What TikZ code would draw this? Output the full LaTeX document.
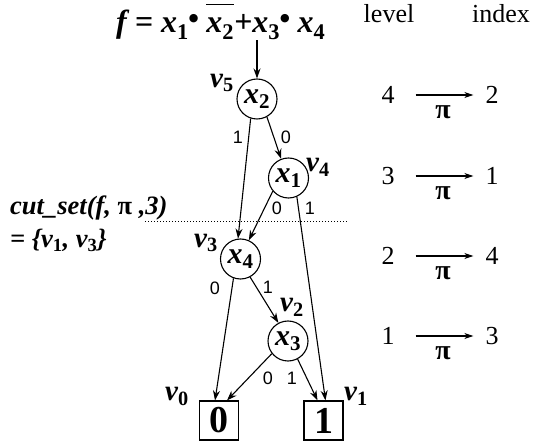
\documentclass[tikz,border=0pt]{standalone}
\usepackage{fontspec}
\setmainfont{Liberation Serif}
\newfontfamily\arialf{Liberation Sans}
\newfontfamily\djv{DejaVu Sans}
\usetikzlibrary{arrows.meta}
\newcommand{\sbb}[1]{\textsubscript{\bfseries\upshape #1}}
\newcommand{\xv}[1]{\textbf{\textit{x}}\sbb{#1}}
\newcommand{\vv}[1]{\textbf{\textit{v}}\sbb{#1}}
\newcommand{\bul}{\raisebox{11pt}{\djv\fontsize{11}{11}\selectfont ●}}
\newcommand{\ovl}[1]{\setbox0\hbox{#1}\rlap{\rule[0.86em]{\wd0}{1.5pt}}\box0}
\begin{document}
\begin{tikzpicture}[x=1pt,y=-1pt,
  vnode/.style={circle,draw,line width=1.1pt,minimum size=40pt,inner sep=0pt,font=\fontsize{30}{32}\selectfont\bfseries\itshape},
  tnode/.style={draw,line width=1.1pt,minimum size=39pt,inner sep=0pt,font=\fontsize{38}{40}\selectfont\bfseries},
  conn/.style={line width=1.1pt,-{Stealth[length=10pt,width=7pt]}},
  rarr/.style={line width=1.1pt,-{Stealth[length=9pt,width=6pt]}},
  elab/.style={font=\arialf\fontsize{18}{20}\selectfont,inner sep=0pt},
  vlab/.style={font=\fontsize{29}{31}\selectfont,inner sep=0pt},
  rtxt/.style={font=\fontsize{26}{28}\selectfont,inner sep=0pt},
  pil/.style={font=\fontsize{28}{30}\selectfont\bfseries,inner sep=0pt},
]
\useasboundingbox (0,0) rectangle (533,446);

% formula
\node[anchor=base west,inner sep=0pt,font=\fontsize{32}{34}\selectfont\bfseries\itshape] (fml) at (116,33)
  {f = \xv{1}\bul\ \ovl{\xv{2}}+\xv{3}\bul\ \xv{4}};

% BDD nodes
\node[vnode] (v5) at (257,99) {\xv{2}};
\node[vnode] (v4) at (288.5,178) {\xv{1}};
\node[vnode] (v3) at (240.5,259) {\xv{4}};
\node[vnode] (v2) at (288,341) {\xv{3}};
\node[tnode] (b0) at (219,420.5) {0};
\node[tnode] (b1) at (323.5,420.5) {1};

% node labels
\node[vlab] (l5) at (222,83) {\vv{5}};
\node[vlab] (l4) at (318,167) {\vv{4}};
\node[vlab] (l3) at (206,243) {\vv{3}};
\node[vlab] (l2) at (292,307) {\vv{2}};
\node[vlab] (l0) at (177,396) {\vv{0}};
\node[vlab] (l1) at (356,396) {\vv{1}};

% connectors
\draw[conn] (v5 |- fml.south) -- (v5.north);
\draw[conn] (v5.252) -- (v3.97);
\draw[conn] (v5.299) -- (v4.111);
\draw[conn] (v4.220) -- (v3.66);
\draw[conn] (v4.294) -- ([xshift=2pt]b1.north);
\draw[conn] (v3.250) -- ([xshift=-4pt]b0.north);
\draw[conn] (v3.298) -- (v2.118);
\draw[conn] (v2.218) -- ([xshift=8pt]b0.north);
\draw[conn] (v2.298) -- ([xshift=-6pt]b1.north);

% edge labels
\node[elab] (e1) at (238,137) {1};
\node[elab] (e2) at (286,137) {0};
\node[elab] (e3) at (277,208) {0};
\node[elab] (e4) at (310,208) {1};
\node[elab] (e5) at (215,288) {0};
\node[elab] (e6) at (268,287) {1};
\node[elab] (e7) at (268,378) {0};
\node[elab] (e8) at (292,378) {1};

% cut line
\coordinate (d1) at (145,222);
\coordinate (d2) at (348,222);
\draw[line width=1pt,dash pattern=on 1pt off 2pt] (d1) -- (d2);

% cut set text
\node[anchor=base west,inner sep=0pt,font=\fontsize{26.5}{28}\selectfont\bfseries\itshape] (cs1) at (10,215)
  {cut\_set(f, \textup{π} ,3)};
\node[anchor=base west,inner sep=0pt,font=\fontsize{26.5}{28}\selectfont\bfseries\itshape] (cs2) at (10,248)
  {= \{\vv{1}, \vv{3}\}};

% right column
\node[rtxt,anchor=base] (lvl) at (389,23) {level};
\node[rtxt,anchor=base] (idx) at (501,23) {index};

\node[rtxt] (L4) at (388,95) {4};  \node[rtxt] (R4) at (492,95) {2};
\node[rtxt] (L3) at (388,176) {3}; \node[rtxt] (R3) at (492,176) {1};
\node[rtxt] (L2) at (388,256) {2}; \node[rtxt] (R2) at (492,256) {4};
\node[rtxt] (L1) at (388,336) {1}; \node[rtxt] (R1) at (492,336) {3};
\draw[rarr] ([xshift=21pt]L4.east) -- ([xshift=-12pt]R4.west);
\draw[rarr] ([xshift=21pt]L3.east) -- ([xshift=-12pt]R3.west);
\draw[rarr] ([xshift=21pt]L2.east) -- ([xshift=-12pt]R2.west);
\draw[rarr] ([xshift=21pt]L1.east) -- ([xshift=-12pt]R1.west);
\node[pil] (p4) at (443,112) {π};
\node[pil] (p3) at (443,193) {π};
\node[pil] (p2) at (443,273) {π};
\node[pil] (p1) at (443,353) {π};
\end{tikzpicture}
\end{document}
